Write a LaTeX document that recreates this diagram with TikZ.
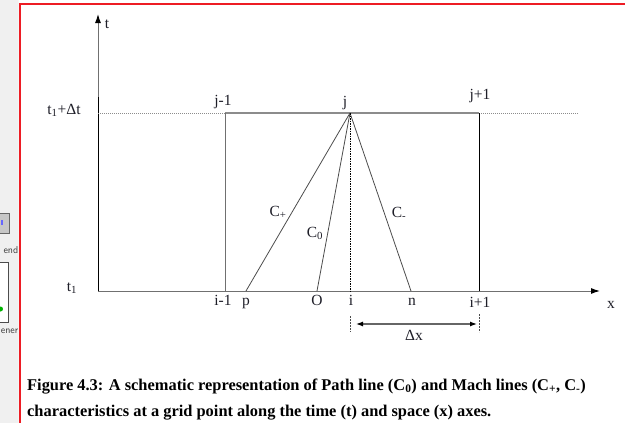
\documentclass[tikz,border=0pt]{standalone}
\usepackage{fontspec}
\setmainfont{Liberation Serif}
\usepackage{xcolor}
\usetikzlibrary{arrows, arrows.meta}
\usetikzlibrary{math}
\definecolor{qred}{RGB}{237,28,36}
\definecolor{qgray}{RGB}{140,140,140}
\definecolor{qpanel}{RGB}{240,240,240}
\definecolor{qtext}{RGB}{30,30,40}

\begin{document}
\begin{tikzpicture}[x=1pt,y=-1pt,
  lbl/.style={font=\fontsize{15.5}{17}\selectfont, text=qtext, inner sep=0pt, anchor=base},
  capt/.style={font=\bfseries\fontsize{16.4}{18}\selectfont, text=black, inner sep=0pt, anchor=base west},
  panel/.style={font=\sffamily\fontsize{10}{11}\selectfont, text=black!75, anchor=base east, inner sep=0pt},
  axis/.style={draw=qgray!80!black, line width=1pt, -{Latex[length=9pt,width=6pt,color=black]}},
  gridln/.style={draw=qgray, line width=1.2pt},
  charln/.style={draw=black!70, line width=0.8pt},
  dotln/.style={draw=qgray, line width=0.8pt, dash pattern=on 1pt off 1pt}]

\useasboundingbox (0,0) rectangle (625,423);

\tikzmath{
\xo = 98;  %t axis
\yb = 291; %level t1
\yt = 113; %level t1+dt
\xjm = 225;
\xj = 350;
\xjp = 479;
\xp = 246;
\xO = 317;
\xn = 411;
}

%left panel of the window
\begin{scope}
\clip (0,0) rectangle (18.5,423);
\fill[qpanel] (0,0) rectangle (18.5,423);
\draw[black!60, fill=black!22] (-2,213) rectangle (9,233);
\fill[blue!60] (1,220) rectangle (2.5,225);
\draw[black!70, fill=white] (-2,262) rectangle (8,322);
\fill[green!70!black] (0.5,309) circle (2.5);
\end{scope}
\node[panel] (endtxt) at (18.5,253) {end};
\node[panel] (enertxt) at (18.5,333) {ener};
\draw[qred, line width=2pt] (19.5,423) -- (19.5,4) -- (626,4);

\coordinate (O0) at (\xo,\yb);
\coordinate (T) at (\xo,14);
\coordinate (X) at (600,\yb);
\coordinate (L) at (\xo,\yt);
\coordinate (R) at (578,\yt);
\coordinate (jm) at (\xjm,\yt);
\coordinate (j) at (\xj,\yt);
\coordinate (jp) at (\xjp,\yt);
\coordinate (im) at (\xjm,\yb);
\coordinate (p) at (\xp,\yb);
\coordinate (o) at (\xO,\yb);
\coordinate (i) at (\xj,\yb);
\coordinate (n) at (\xn,\yb);
\coordinate (ip) at (\xjp,\yb);

%axes:
\draw[axis] (O0) -- (T);
\draw[axis] (O0) -- (X);
\draw[black, line width=1pt] (O0) -- (\xo,97);

%grid
\draw[dotln] (L) -- (jm);
\draw[gridln] (jm) -- (jp);
\draw[dotln] (jp) -- (R);
\draw[qgray!80!black, line width=0.9pt] (jm) -- (im);
\draw[black, line width=0.9pt] (jp) -- (ip);

%characteristics
\draw[charln] (j) -- (p);
\draw[charln] (j) -- (o);
\draw[charln] (j) -- (n);
\draw[black, line width=0.6pt, dash pattern=on 1.5pt off 1pt] (j) -- (i);

%dx
\coordinate (ta) at (\xj,316);
\coordinate (tb) at (\xj,332);
\coordinate (tc) at (\xjp,314);
\coordinate (td) at (\xjp,332);
\coordinate (dxa) at (356,324);
\coordinate (dxb) at (477,324);
\draw[black!70, line width=0.6pt, dash pattern=on 2pt off 1pt] (ta) -- (tb);
\draw[black!70, line width=0.6pt, dash pattern=on 2pt off 1pt] (tc) -- (td);
\draw[{Latex[length=7pt,width=5pt,color=black]}-{Latex[length=7pt,width=5pt,color=black]}, black!60, line width=1.2pt] (dxa) -- (dxb);

%labels
\node[lbl] (tlab) at (107,28) {t};
\node[lbl] (xlab) at (611,308) {x};
\node[lbl] (tdt) at (64,114) {t\textsubscript{1}+Δt};
\node[lbl] (t1) at (72,291) {t\textsubscript{1}};
\node[lbl] (jmlab) at (223,105) {j-1};
\node[lbl] (jlab) at (345,106) {j};
\node[lbl] (jplab) at (480,99) {j+1};
\node[lbl] (imlab) at (223,305) {i-1};
\node[lbl] (plab) at (246,305) {p};
\node[lbl] (olab) at (317,305) {O};
\node[lbl] (ilab) at (351,305) {i};
\node[lbl] (nlab) at (412,305) {n};
\node[lbl] (iplab) at (480,307) {i+1};
\node[lbl] (dxlab) at (414,340) {Δx};
\node[lbl] (cplus) at (278,216) {C\textsubscript{+}};
\node[lbl] (czero) at (315,237) {C\textsubscript{0}};
\node[lbl] (cminus) at (399,217) {C\textsubscript{-}};

%caption
\node[capt] (cap1) at (27,390) {Figure 4.3: A schematic representation of Path line (C\textsubscript{0}) and Mach lines (C\textsubscript{+}, C\textsubscript{-})};
\node[capt] (cap2) at (27,416) {characteristics at a grid point along the time (t) and space (x) axes.};

\end{tikzpicture}
\end{document}
